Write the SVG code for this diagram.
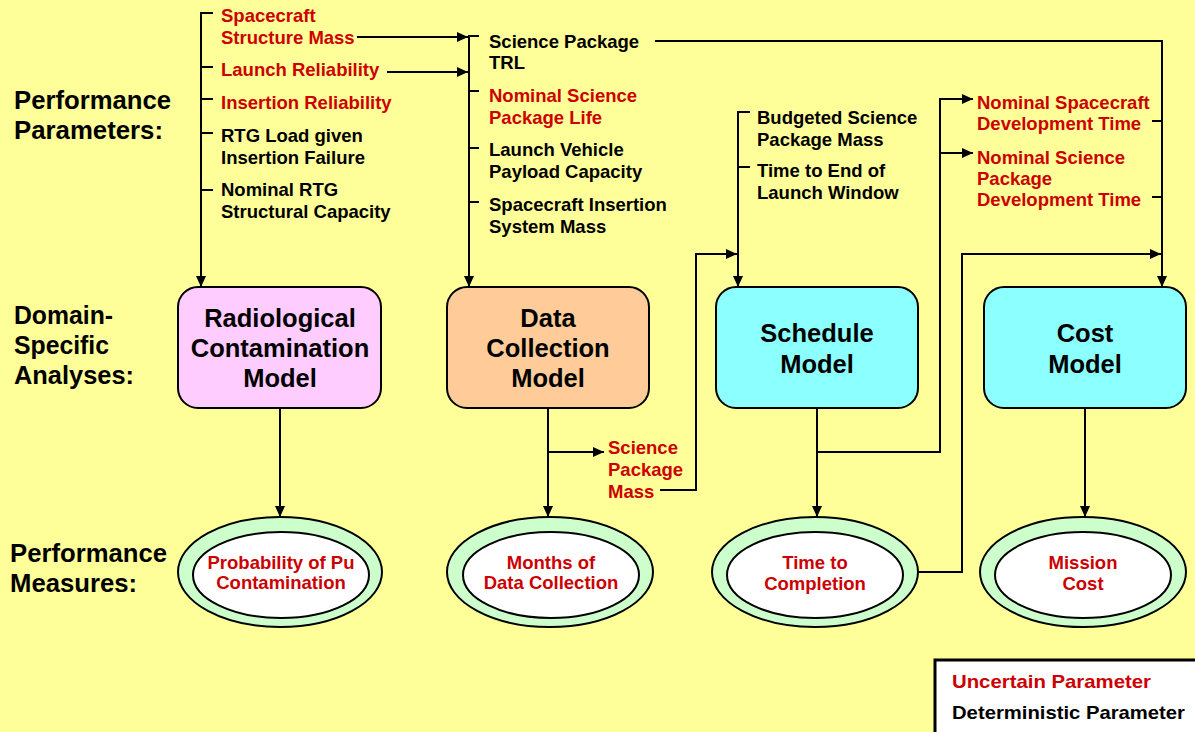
<svg xmlns="http://www.w3.org/2000/svg" width="1195" height="732" viewBox="0 0 1195 732">
<defs>
<marker id="ah" markerUnits="userSpaceOnUse" markerWidth="12" markerHeight="10" refX="11" refY="5" orient="auto">
<path d="M0,0 L11,5 L0,10 z" fill="#000"/>
</marker>
<style>
text{font-family:"Liberation Sans",Arial,sans-serif;font-weight:bold}
.lbl{font-size:25px;fill:#000}
.p{font-size:18.5px}
.u{fill:#CC0000}
.d{fill:#000}
.bt{font-size:25.5px;fill:#000;text-anchor:middle}
.et{font-size:18.5px;fill:#CC0000;text-anchor:middle}
.box{stroke:#000;stroke-width:2}
.c{fill:none;stroke:#000;stroke-width:2}
.a{marker-end:url(#ah)}
.eo{fill:#CCFFCC;stroke:#000;stroke-width:2}
.ei{fill:#FFFFFF;stroke:#000;stroke-width:2}
</style>
</defs>
<rect x="0" y="0" width="1195" height="732" fill="#FFFF99"/>

<g id="row-labels">
<text class="lbl" x="14" y="109" textLength="157" lengthAdjust="spacingAndGlyphs">Performance</text>
<text class="lbl" x="14" y="139" textLength="149" lengthAdjust="spacingAndGlyphs">Parameters:</text>
<text class="lbl" x="14" y="324" textLength="99" lengthAdjust="spacingAndGlyphs">Domain-</text>
<text class="lbl" x="14" y="354" textLength="95" lengthAdjust="spacingAndGlyphs">Specific</text>
<text class="lbl" x="14" y="384" textLength="120" lengthAdjust="spacingAndGlyphs">Analyses:</text>
<text class="lbl" x="10" y="562" textLength="157" lengthAdjust="spacingAndGlyphs">Performance</text>
<text class="lbl" x="10" y="592" textLength="127" lengthAdjust="spacingAndGlyphs">Measures:</text>
</g>

<g id="connectors">
<path class="c a" d="M213,13 H201 V287"/>
<path class="c" d="M201,67 H213 M201,99 H213 M201,133 H213 M201,190 H213"/>
<path class="c a" d="M357,37 H468"/>
<path class="c a" d="M387,72 H468"/>
<path class="c a" d="M479,36 H469 V287"/>
<path class="c" d="M469,91 H479 M469,148 H479 M469,202 H479"/>
<path class="c a" d="M655,41 H1162 V287"/>
<path class="c" d="M1152,121 H1162 M1152,197 H1162"/>
<path class="c a" d="M750,112 H738 V287"/>
<path class="c" d="M738,167 H750"/>
<path class="c a" d="M280,408 V517"/>
<path class="c a" d="M548,408 V517"/>
<path class="c a" d="M548,452 H604"/>
<path class="c a" d="M660,490 H696 V254 H737"/>
<path class="c a" d="M817,408 V517"/>
<path class="c a" d="M817,452 H940 V99 H973"/>
<path class="c a" d="M940,153 H973"/>
<path class="c a" d="M918,572 H962 V254 H1161"/>
<path class="c a" d="M1085,408 V517"/>
</g>

<g id="params-col1">
<text class="p u" x="221" y="22">Spacecraft</text>
<text class="p u" x="221" y="44">Structure Mass</text>
<text class="p u" x="221" y="76">Launch Reliability</text>
<text class="p u" x="221" y="109">Insertion Reliability</text>
<text class="p d" x="221" y="142">RTG Load given</text>
<text class="p d" x="221" y="164">Insertion Failure</text>
<text class="p d" x="221" y="196">Nominal RTG</text>
<text class="p d" x="221" y="218">Structural Capacity</text>
</g>

<g id="params-col2">
<text class="p d" x="489" y="48">Science Package</text>
<text class="p d" x="489" y="69">TRL</text>
<text class="p u" x="489" y="102">Nominal Science</text>
<text class="p u" x="489" y="124">Package Life</text>
<text class="p d" x="489" y="156">Launch Vehicle</text>
<text class="p d" x="489" y="178">Payload Capacity</text>
<text class="p d" x="489" y="211">Spacecraft Insertion</text>
<text class="p d" x="489" y="233">System Mass</text>
</g>

<g id="params-col3">
<text class="p d" x="757" y="124">Budgeted Science</text>
<text class="p d" x="757" y="146">Package Mass</text>
<text class="p d" x="757" y="177">Time to End of</text>
<text class="p d" x="757" y="199">Launch Window</text>
</g>

<g id="params-col4">
<text class="p u" x="977" y="109">Nominal Spacecraft</text>
<text class="p u" x="977" y="130">Development Time</text>
<text class="p u" x="977" y="164">Nominal Science</text>
<text class="p u" x="977" y="185">Package</text>
<text class="p u" x="977" y="206">Development Time</text>
</g>

<g id="science-package-mass">
<text class="p u" x="608" y="454">Science</text>
<text class="p u" x="608" y="476">Package</text>
<text class="p u" x="608" y="498">Mass</text>
</g>

<g id="radiological-model">
<rect class="box" x="178" y="287" width="203" height="121" rx="20" fill="#FFCCFF"/>
<text class="bt" x="280" y="327">Radiological</text>
<text class="bt" x="280" y="357">Contamination</text>
<text class="bt" x="280" y="387">Model</text>
</g>

<g id="data-collection-model">
<rect class="box" x="447" y="287" width="202" height="121" rx="20" fill="#FFCC99"/>
<text class="bt" x="548" y="327">Data</text>
<text class="bt" x="548" y="357">Collection</text>
<text class="bt" x="548" y="387">Model</text>
</g>

<g id="schedule-model">
<rect class="box" x="716" y="287" width="202" height="121" rx="20" fill="#8CFFFF"/>
<text class="bt" x="817" y="342">Schedule</text>
<text class="bt" x="817" y="373">Model</text>
</g>

<g id="cost-model">
<rect class="box" x="984" y="287" width="202" height="121" rx="20" fill="#8CFFFF"/>
<text class="bt" x="1085" y="342">Cost</text>
<text class="bt" x="1085" y="373">Model</text>
</g>

<g id="pu-contamination">
<ellipse class="eo" cx="280" cy="572" rx="102" ry="55"/>
<ellipse class="ei" cx="281" cy="575" rx="88" ry="43"/>
<text class="et" x="281" y="569">Probability of Pu</text>
<text class="et" x="281" y="589">Contamination</text>
</g>

<g id="months-data-collection">
<ellipse class="eo" cx="550" cy="572" rx="103" ry="55"/>
<ellipse class="ei" cx="551" cy="575" rx="88" ry="43"/>
<text class="et" x="551" y="569">Months of</text>
<text class="et" x="551" y="589">Data Collection</text>
</g>

<g id="time-to-completion">
<ellipse class="eo" cx="815" cy="572" rx="103" ry="55"/>
<ellipse class="ei" cx="815" cy="575" rx="88" ry="43"/>
<text class="et" x="815" y="569">Time to</text>
<text class="et" x="815" y="590">Completion</text>
</g>

<g id="mission-cost">
<ellipse class="eo" cx="1083" cy="572" rx="103" ry="55"/>
<ellipse class="ei" cx="1083" cy="575" rx="88" ry="43"/>
<text class="et" x="1083" y="569">Mission</text>
<text class="et" x="1083" y="590">Cost</text>
</g>

<g id="legend">
<rect x="935" y="660" width="264" height="78" fill="#FFFFFF" stroke="#000" stroke-width="3"/>
<text class="p u" x="952" y="688" textLength="199" lengthAdjust="spacingAndGlyphs">Uncertain Parameter</text>
<text class="p d" x="952" y="719" textLength="233" lengthAdjust="spacingAndGlyphs">Deterministic Parameter</text>
</g>
</svg>
